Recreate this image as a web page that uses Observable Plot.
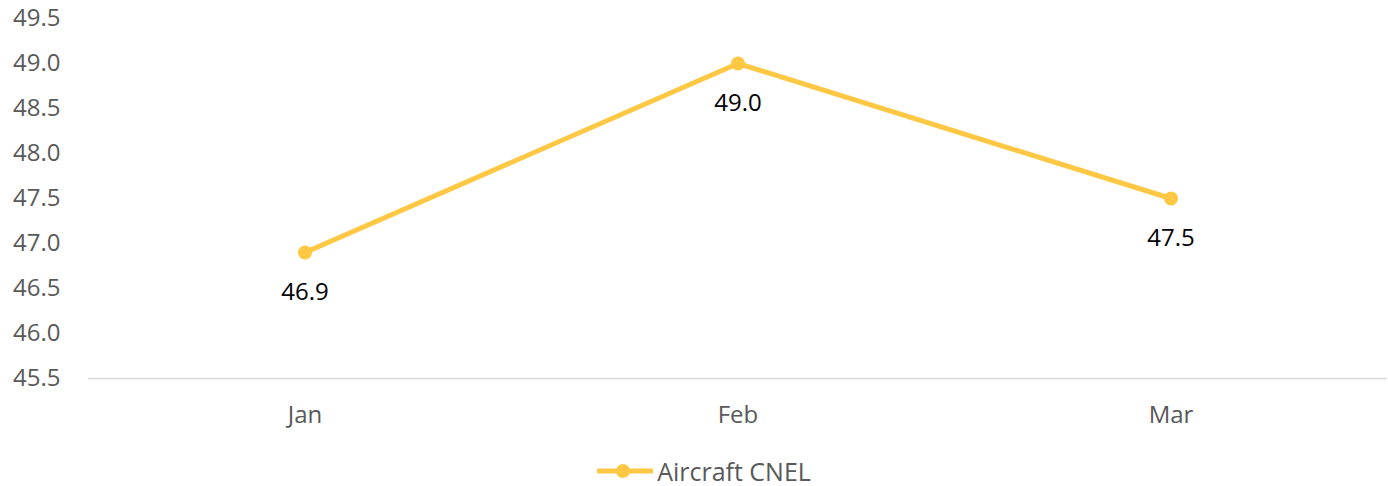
<!DOCTYPE html>
<html>
<head>
<meta charset="utf-8">
<script src="https://cdn.jsdelivr.net/npm/d3@7"></script>
<script src="https://cdn.jsdelivr.net/npm/@observablehq/plot@0.6"></script>
<style>
  html, body { margin: 0; padding: 0; background: #fff; overflow: hidden; }
  #chart svg { display: block; }
  .legend { display: flex; justify-content: center; align-items: center; height: 30px; padding-top: 16px;
    line-height: 30px; font-family: "Open Sans", sans-serif; font-size: 25px; color: #595959; margin-left: 18px; }
  .legend svg { display: block; margin-right: 2px; }
</style>
</head>
<body>
<div id="chart"></div>
<div class="legend"><svg width="60" height="20"><line x1="2" y1="10" x2="58" y2="10" stroke="#FFC844" stroke-width="5"/><circle cx="28" cy="10" r="7" fill="#FFC844"/></svg><span>Aircraft CNEL</span></div>
<script>
const months = ["Jan", "Feb", "Mar"];
const cnel = [46.9, 49.0, 47.5];
const yTicks = [45.5, 46.0, 46.5, 47.0, 47.5, 48.0, 48.5, 49.0, 49.5];
const seriesName = "Aircraft CNEL";

const data = months.map((m, i) => ({month: m, value: cnel[i], series: seriesName}));
const color = "#FFC844";

const chart = Plot.plot({
  width: 1388,
  height: 440,
  marginTop: 18,
  marginBottom: 62,
  marginLeft: 88,
  marginRight: 1,
  style: {fontFamily: "'Open Sans', sans-serif", fontSize: "24px", color: "#595959", background: "#fff"},
  x: {type: "band", domain: months, padding: 0, label: null},
  y: {domain: [45.5, 49.5], label: null},
  marks: [
    Plot.axisY({ticks: yTicks, tickFormat: d => d.toFixed(1), tickSize: 0, tickPadding: 28, fontSize: 24, fill: "#595959", label: null}),
    Plot.axisX({tickSize: 0, tickPadding: 27, fontSize: 24, fill: "#595959", label: null}),
    Plot.ruleY([45.5], {stroke: "#d9d9d9", strokeWidth: 1.5}),
    Plot.line(data, {x: "month", y: "value", stroke: color, strokeWidth: 5, curve: "linear"}),
    Plot.dot(data, {x: "month", y: "value", fill: color, r: 7, stroke: "none"}),
    Plot.text(data, {x: "month", y: "value", text: d => d.value.toFixed(1), dy: 40, fill: "#000", fontSize: 24})
  ]
});
document.getElementById("chart").appendChild(chart);
</script>
</body>
</html>
